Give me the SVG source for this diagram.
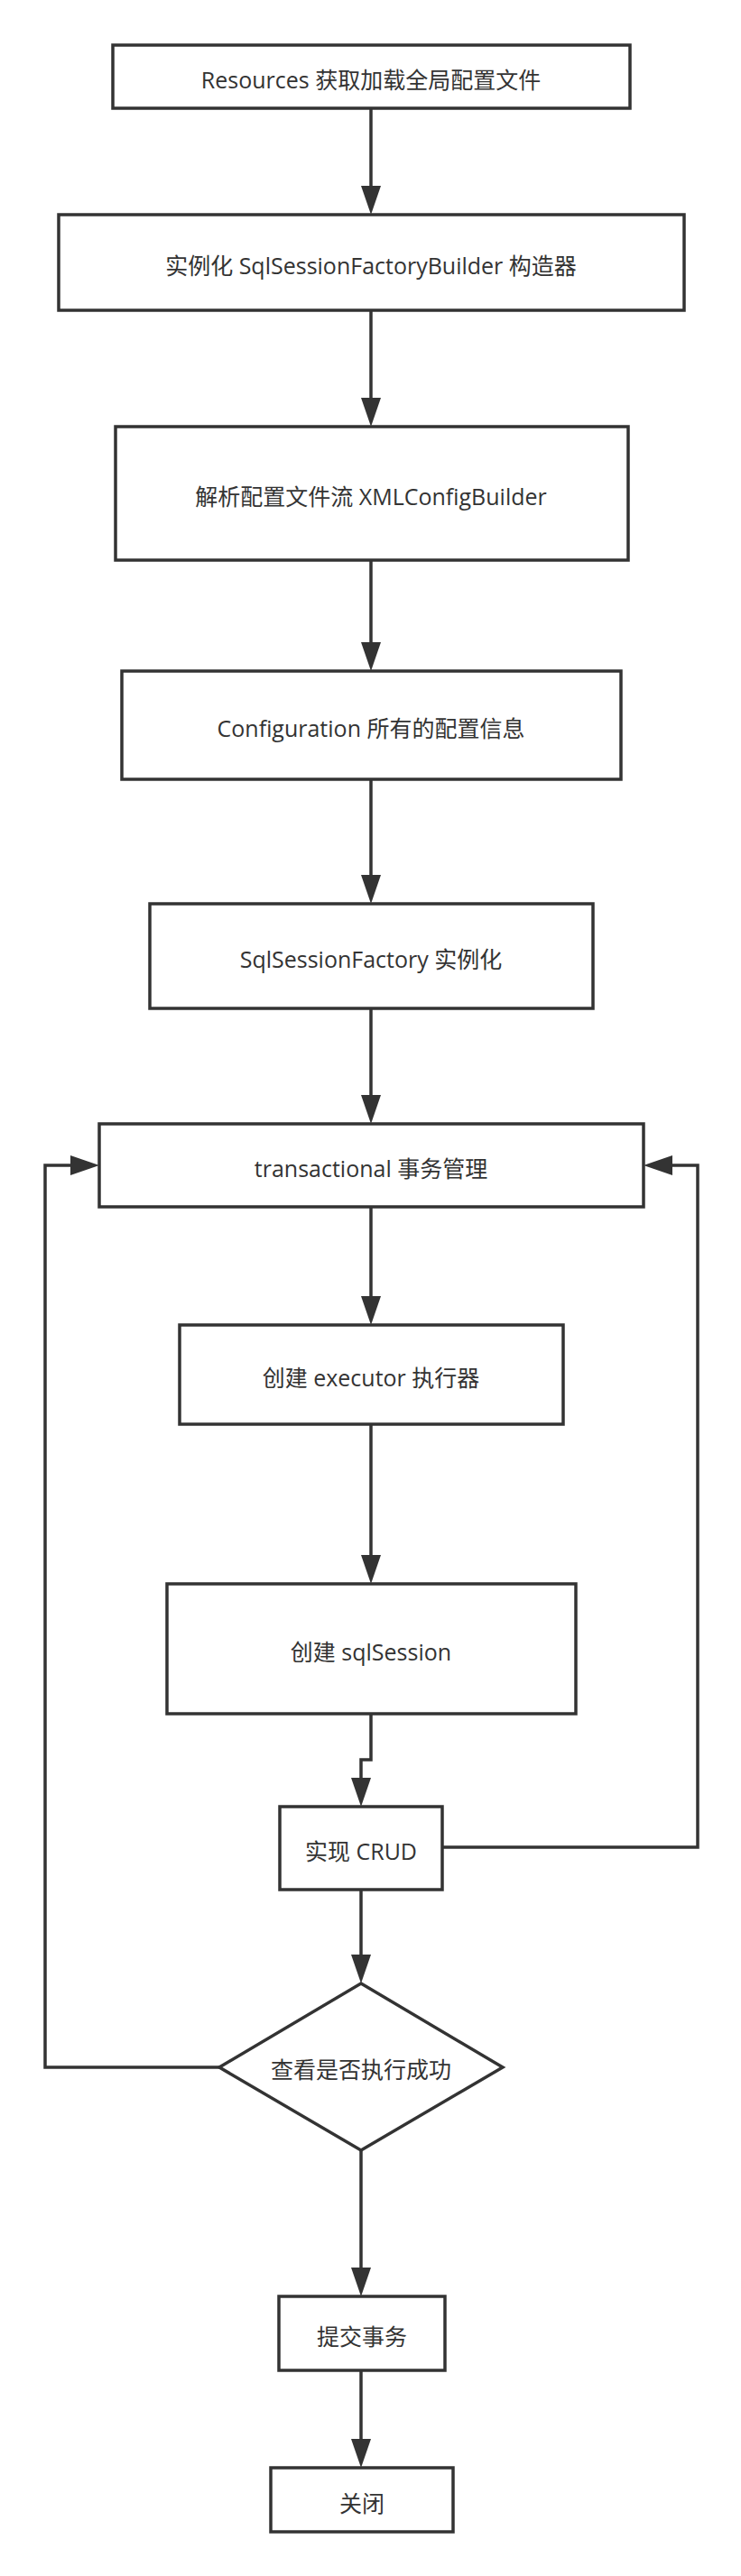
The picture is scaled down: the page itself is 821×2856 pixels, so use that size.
<svg xmlns="http://www.w3.org/2000/svg" width="821" height="2856" viewBox="0 0 821 2856">
<style>
.n{fill:#ffffff;stroke:#333333;stroke-width:3.5}
.t{font-family:"Open Sans","Noto Sans CJK SC",sans-serif;font-size:25px;fill:#333333;text-anchor:middle}
.c{fill:none;stroke:#333333;stroke-width:3.5;marker-end:url(#arr)}
</style>
<defs>
<marker id="arr" markerUnits="userSpaceOnUse" viewBox="0 0 32 22" refX="2" refY="11" markerWidth="32" markerHeight="22" orient="auto">
<path d="M0,0 L32,11 L0,22 Z" fill="#333333"/>
</marker>
</defs>
<rect width="821" height="2856" fill="#ffffff"/>
<g id="connectors">
<path class="c" d="M411,120 V208"/>
<path class="c" d="M411,344 V443"/>
<path class="c" d="M411,621 V714"/>
<path class="c" d="M411,864 V972"/>
<path class="c" d="M411,1118 V1216"/>
<path class="c" d="M411,1338 V1439"/>
<path class="c" d="M411,1579 V1726"/>
<path class="c" d="M411,1900 V1951 H400 V1973"/>
<path class="c" d="M400,2095 V2169"/>
<path class="c" d="M400,2384 V2516"/>
<path class="c" d="M400,2628 V2706"/>
<path class="c" d="M490,2048 H773 V1292 H743"/>
<path class="c" d="M243,2292 H50 V1292 H80"/>
</g>
<g id="n1"><rect class="n" x="125" y="50" width="573" height="70"/><text class="t" x="411" y="98">Resources 获取加载全局配置文件</text></g>
<g id="n2"><rect class="n" x="65" y="238" width="693" height="106"/><text class="t" x="411" y="304">实例化 SqlSessionFactoryBuilder 构造器</text></g>
<g id="n3"><rect class="n" x="128" y="473" width="568" height="148"/><text class="t" x="411" y="560">解析配置文件流 XMLConfigBuilder</text></g>
<g id="n4"><rect class="n" x="135" y="744" width="553" height="120"/><text class="t" x="411" y="817">Configuration 所有的配置信息</text></g>
<g id="n5"><rect class="n" x="166" y="1002" width="491" height="116"/><text class="t" x="411" y="1073">SqlSessionFactory 实例化</text></g>
<g id="n6"><rect class="n" x="110" y="1246" width="603" height="92"/><text class="t" x="411" y="1305">transactional 事务管理</text></g>
<g id="n7"><rect class="n" x="199" y="1469" width="425" height="110"/><text class="t" x="411" y="1537">创建 executor 执行器</text></g>
<g id="n8"><rect class="n" x="185" y="1756" width="453" height="144"/><text class="t" x="411" y="1841">创建 sqlSession</text></g>
<g id="n9"><rect class="n" x="310" y="2003" width="180" height="92"/><text class="t" x="400" y="2062">实现 CRUD</text></g>
<g id="n10"><polygon class="n" points="400,2199 557,2292 400,2384 243,2292"/><text class="t" x="400" y="2304">查看是否执行成功</text></g>
<g id="n11"><rect class="n" x="309" y="2546" width="184" height="82"/><text class="t" x="401" y="2600">提交事务</text></g>
<g id="n12"><rect class="n" x="300" y="2736" width="202" height="71"/><text class="t" x="401" y="2785">关闭</text></g>
</svg>
